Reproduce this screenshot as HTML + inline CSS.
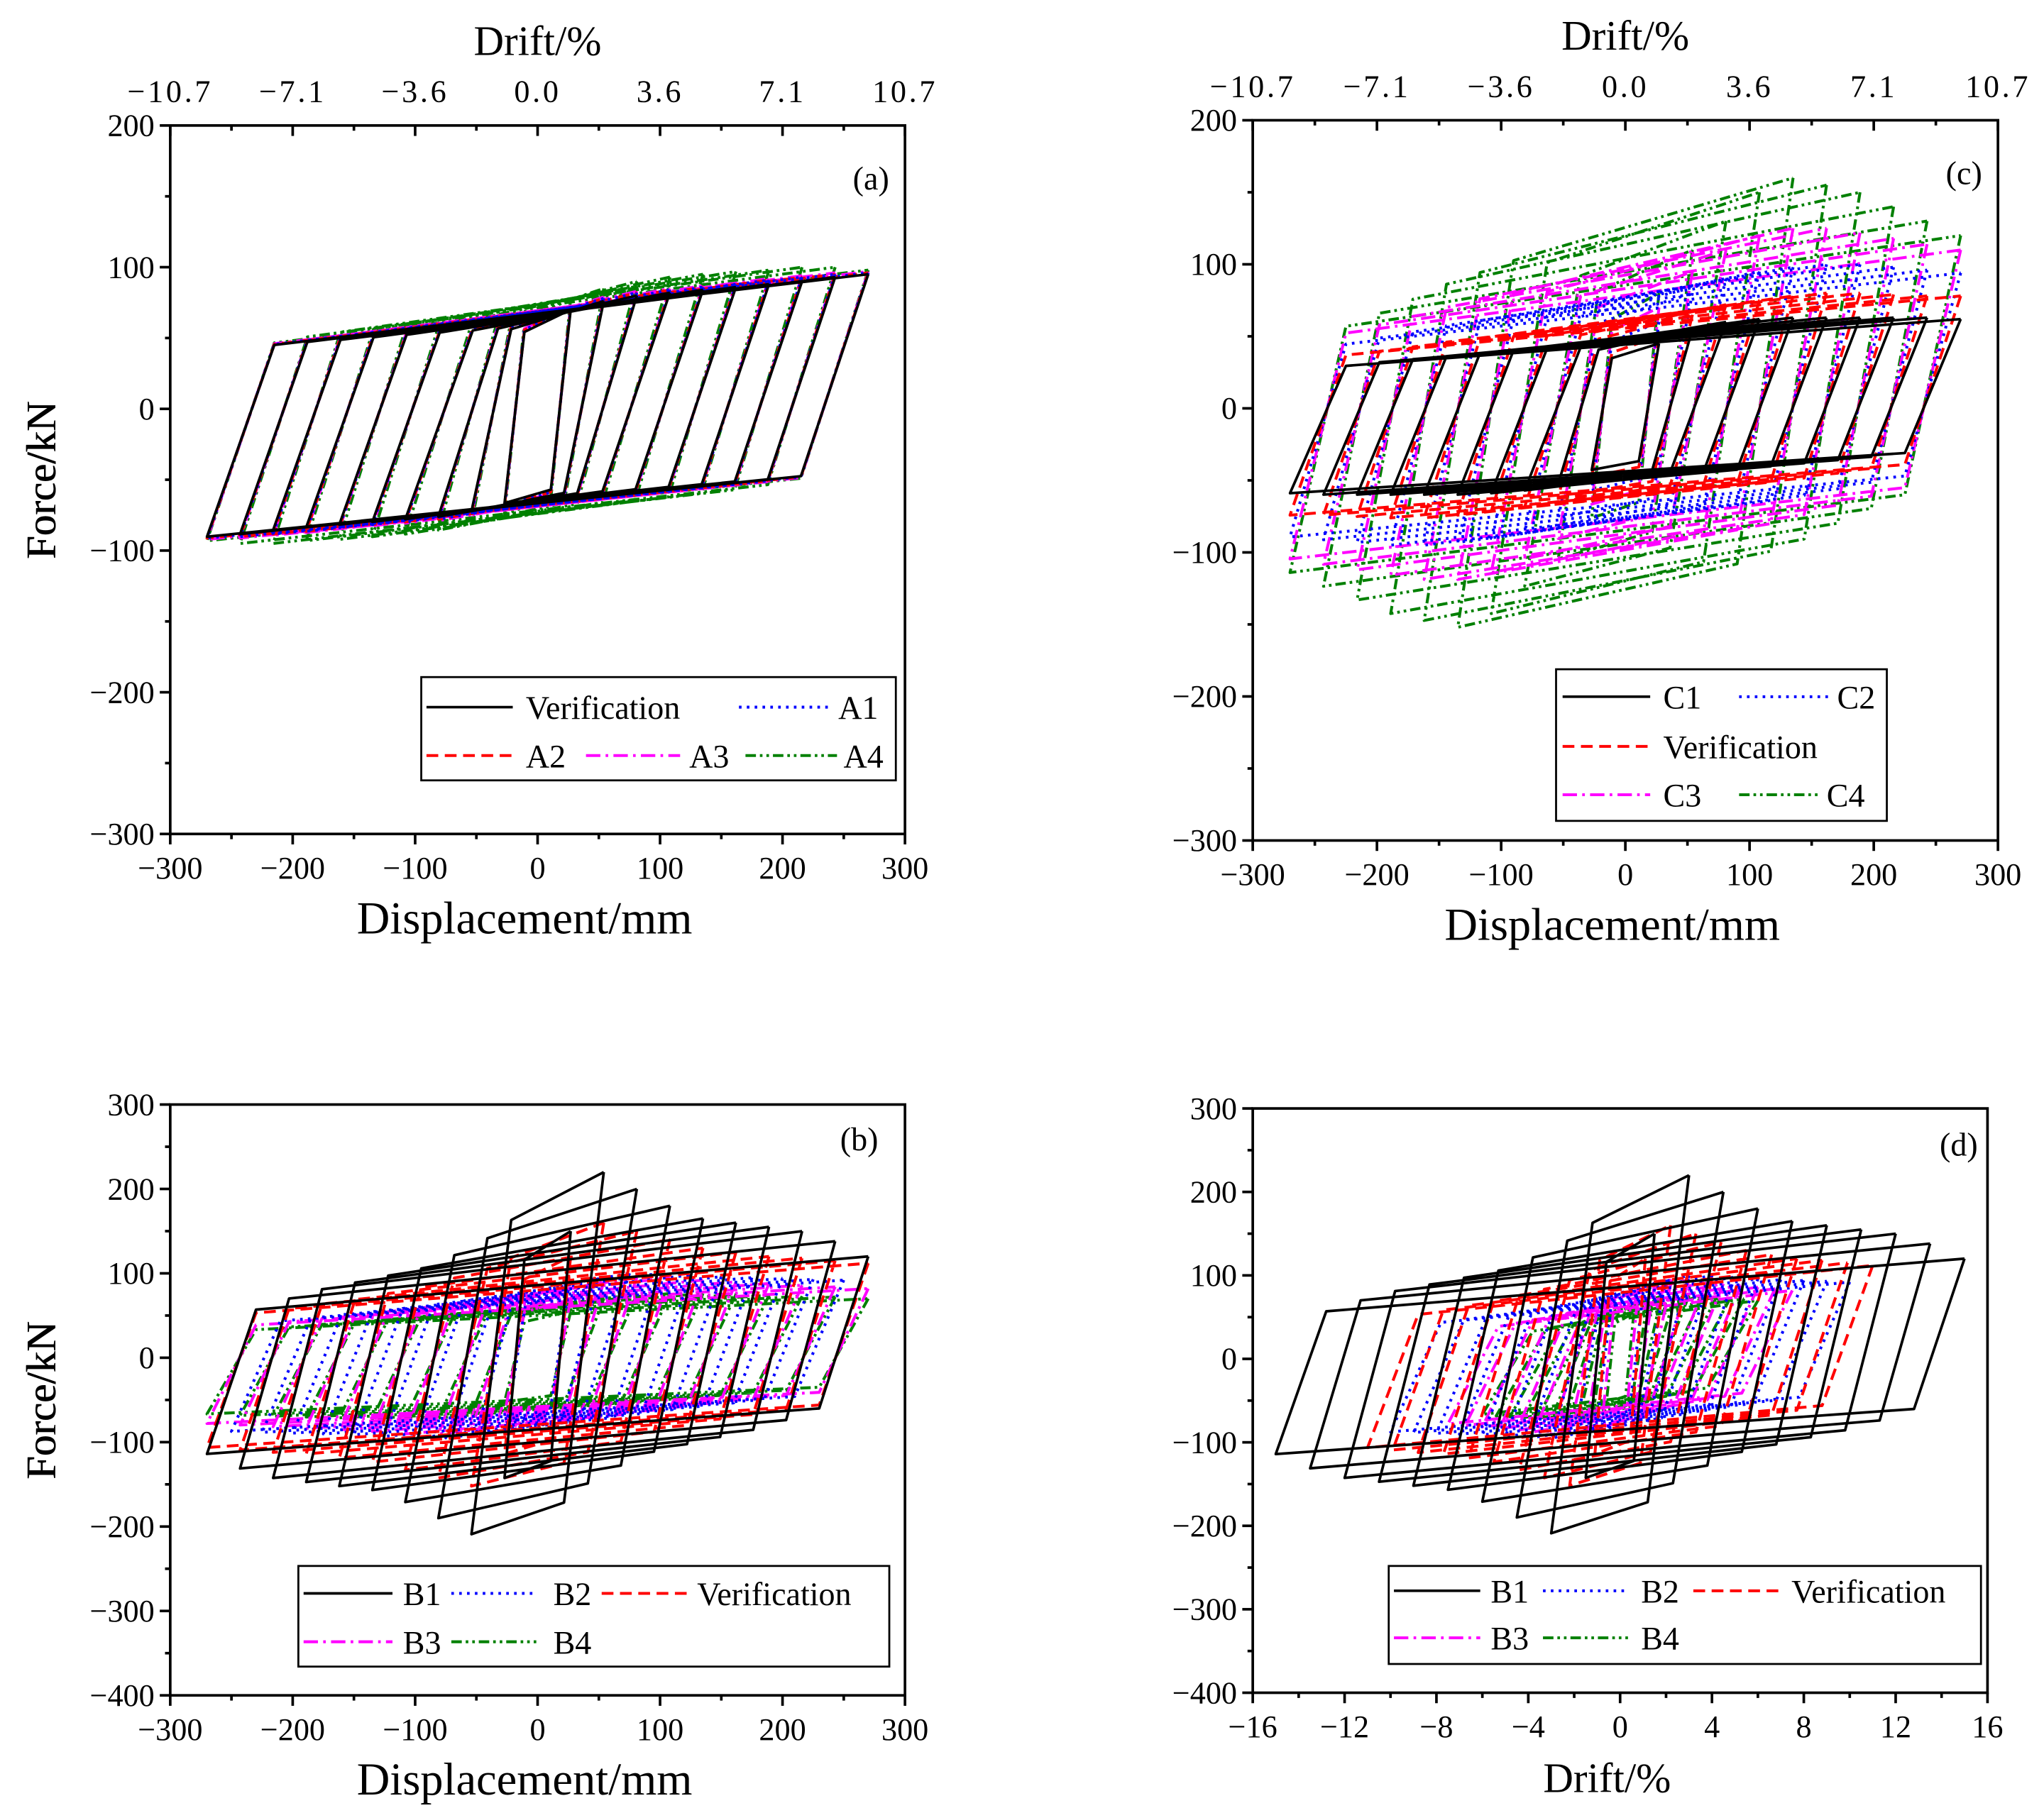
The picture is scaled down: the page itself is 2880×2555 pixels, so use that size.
<!DOCTYPE html>
<html><head><meta charset="utf-8"><style>
html,body{margin:0;padding:0;background:#fff}
svg{display:block}
text{font-family:"Liberation Serif",serif;fill:#000}
</style></head><body>
<svg id="fig" width="2880" height="2555" viewBox="0 0 1563 1387" xmlns="http://www.w3.org/2000/svg"></svg>
<script>
// ---- data ----
const ampA = [27,54,81,108,135,162,189,216,243,270];
const forceAVer = [70,76,80,82,84,86,88,90,93,95];
const forceA1 = [72,78,82,84,86,88,91,93,95,96];
const forceA2 = [72,78,82,84,86,88,91,93,95,96];
const forceA3 = [73,79,83,85,87,89,92,94,96,97];
const forceA4 = [78,85,90,93,95,97,98,100,100,98];

const ampC = [27,54,81,108,135,162,189,216,243,270];
const forceC1 = [45,55,60,62,63,63,63,63,63,62];
const forceC2 = [60,80,90,95,98,100,100,98,96,94];
const forceCVer = [50,65,72,75,78,80,80,79,78,78];
const forceC3 = [70,95,110,120,125,125,122,118,114,110];
const forceC4 = [80,110,130,150,160,155,150,140,130,120];

const ampB1 = [27,54,81,108,135,162,189,216,243,270];
const forceB1 = [150,220,200,180,165,160,155,150,138,120];
const ampB2 = [25,50,75,100,125,150,175,200,225,250];
const forceB2 = [80,95,100,100,98,96,95,94,93,92];
const ampBVer = [27,54,81,108,135,162,189,216,243,270];
const forceBVer = [120,160,150,140,130,125,120,118,115,112];
const ampB3 = [27,54,81,108,135,162,189,216,243,270];
const forceB3 = [70,90,95,95,92,90,88,86,84,82];
const ampB4 = [27,54,81,108,135,162,189,216,243,270];
const forceB4 = [55,70,75,76,76,75,74,73,72,70];

const ampD1 = [1.5,3,4.5,6,7.5,9,10.5,12,13.5,15];
const ampD2 = [1,2,3,4,5,6,7,8,9,10];
const ampDVer = [1.1,2.2,3.3,4.4,5.5,6.6,7.7,8.8,9.9,11];
const ampD3 = [0.75,1.5,2.25,3,3.75,4.5,5.25,6,6.75,7.5];
const ampD4 = [0.6,1.2,1.8,2.4,3,3.6,4.2,4.8,5.4,6];

const yTicksAC = [-300,-200,-100,0,100,200];
const yTicksBD = [-400,-300,-200,-100,0,100,200,300];
const xTicksDisp = [-300,-200,-100,0,100,200,300];
const xTicksDrift = [-16,-12,-8,-4,0,4,8,12,16];
const topDriftLabels = ["\u221210.7","\u22127.1","\u22123.6","0.0","3.6","7.1","10.7"];

// ---- drawing ----
const NS="http://www.w3.org/2000/svg";
const svg=document.getElementById('fig');
function mk(tag,attrs,parent){const e=document.createElementNS(NS,tag);for(const k in attrs)e.setAttribute(k,attrs[k]);(parent||svg).appendChild(e);return e;}
const styles={
 black:{stroke:"#000","stroke-width":2,"stroke-dasharray":"none"},
 blue:{stroke:"#0000ff","stroke-width":2.2,"stroke-dasharray":"2,4"},
 red:{stroke:"#ff0000","stroke-width":2.2,"stroke-dasharray":"9,5"},
 magenta:{stroke:"#ff00ff","stroke-width":2.2,"stroke-dasharray":"11,4,2,4"},
 green:{stroke:"#008000","stroke-width":2.2,"stroke-dasharray":"8,3,2,3,2,3"}
};
function minus(v){return String(v).replace('-','\u2212');}

function panel(p){
 const g=mk('g',{});
 
 
 const sx=v=>p.x0+(v-p.xmin)/(p.xmax-p.xmin)*(p.x1-p.x0);
 const sy=v=>p.y0+(p.ymax-v)/(p.ymax-p.ymin)*(p.y1-p.y0);
 p.series.forEach(s=>{
  const st=styles[s.style];
  const amax=s.amp[s.amp.length-1];
  let d='';
  for(let i=0;i<s.amp.length;i++){
   const a=s.amp[i],f=s.force[i],fn=f*0.95;
   const w=Math.min(p.stepW,a*0.6);
   const k=0.5+0.35*(1-a/amax);
   const pts=[[a,f],[a-w,-k*f],[-a,-fn],[-a+w,k*fn],[a,f]];
   d+='M'+pts.map(q=>sx(q[0]).toFixed(1)+','+sy(q[1]).toFixed(1)).join('L');
  }
  const path=mk('path',{d:d,fill:"none",stroke:st.stroke,"stroke-width":st["stroke-width"],"stroke-dasharray":st["stroke-dasharray"],"stroke-linejoin":"round"},g);
  
  
 });
 const fr=mk('rect',{x:p.x0,y:p.y0,width:p.x1-p.x0,height:p.y1-p.y0,fill:"none",stroke:"#000","stroke-width":2},g);
 
 
 p.yt.forEach((v,i)=>{
  mk('line',{x1:p.x0-8,x2:p.x0,y1:sy(v),y2:sy(v),stroke:"#000","stroke-width":2},g);
  if(i<p.yt.length-1){const m=(v+p.yt[i+1])/2;mk('line',{x1:p.x0-4,x2:p.x0,y1:sy(m),y2:sy(m),stroke:"#000","stroke-width":2},g);}
  const t=mk('text',{x:p.x0-12,y:sy(v)+8,"font-size":24,"text-anchor":"end"},g);t.textContent=minus(v);
  
  
 });
 p.xt.forEach((v,i)=>{
  mk('line',{x1:sx(v),x2:sx(v),y1:p.y1,y2:p.y1+8,stroke:"#000","stroke-width":2},g);
  if(i<p.xt.length-1){const m=(v+p.xt[i+1])/2;mk('line',{x1:sx(m),x2:sx(m),y1:p.y1,y2:p.y1+4,stroke:"#000","stroke-width":2},g);}
  const t=mk('text',{x:sx(v),y:p.y1+34,"font-size":24,"text-anchor":"middle"},g);t.textContent=minus(v);
  
  
 });
 if(p.top){
  xTicksDisp.forEach((v,i)=>{
   mk('line',{x1:sx(v),x2:sx(v),y1:p.y0,y2:p.y0+8,stroke:"#000","stroke-width":2},g);
   if(i<xTicksDisp.length-1){const m=(v+xTicksDisp[i+1])/2;mk('line',{x1:sx(m),x2:sx(m),y1:p.y0,y2:p.y0+4,stroke:"#000","stroke-width":2},g);}
   const t=mk('text',{x:sx(v),y:p.y0-18,"font-size":24,"text-anchor":"middle","letter-spacing":"2"},g);t.textContent=topDriftLabels[i];
   
   
  });
  const tt=mk('text',{x:(p.x0+p.x1)/2,y:p.y0-54,"font-size":32,"text-anchor":"middle"},g);tt.textContent="Drift/%";
  
  
 }
 const yt=mk('text',{x:0,y:0,"font-size":32,"text-anchor":"middle",transform:`translate(42,${(p.y0+p.y1)/2}) rotate(-90)`},g);yt.textContent="Force/kN";
 
 
 const xt=mk('text',{x:(p.x0+p.x1)/2-10,y:p.y1+76,"font-size":p.xtitleSize||35,"text-anchor":"middle"},g);xt.textContent=p.xtitle;
 
 
 const pl=mk('text',{x:p.lab[0],y:p.lab[1],"font-size":25,"text-anchor":"middle"},g);pl.textContent=p.labText;
 
 
 const L=p.legend;
 const lg=mk('g',{},g);
 
 
 mk('rect',{x:L.box[0],y:L.box[1],width:L.box[2],height:L.box[3],fill:"#fff",stroke:"#000","stroke-width":1.5},lg);
 L.items.forEach(it=>{
  const st=styles[it.style];
  mk('line',{x1:it.l[0],x2:it.l[1],y1:it.y,y2:it.y,stroke:st.stroke,"stroke-width":st["stroke-width"],"stroke-dasharray":st["stroke-dasharray"]},lg);
  const t=mk('text',{x:it.t,y:it.y+9,"font-size":25},lg);t.textContent=it.label;
  
  
 });
}

panel({name:'panel-a',x0:130,x1:692,y0:96,y1:638,xmin:-300,xmax:300,ymin:-300,ymax:200,yt:yTicksAC,xt:xTicksDisp,top:true,stepW:55,
 xtitle:"Displacement/mm",lab:[666,145],labText:"(a)",
 series:[{label:'A4',style:'green',amp:ampA,force:forceA4},{label:'A3',style:'magenta',amp:ampA,force:forceA3},{label:'A2',style:'red',amp:ampA,force:forceA2},{label:'A1',style:'blue',amp:ampA,force:forceA1},{label:'Verification',style:'black',amp:ampA,force:forceAVer}],
 legend:{box:[322,518,363,79],items:[
  {style:'black',l:[326,392],t:402,y:541,label:'Verification'},{style:'blue',l:[565,635],t:641,y:541,label:'A1'},
  {style:'red',l:[326,392],t:402,y:578,label:'A2'},{style:'magenta',l:[448,520],t:527,y:578,label:'A3'},{style:'green',l:[570,640],t:645,y:578,label:'A4'}]}});

panel({name:'panel-c',x0:958,x1:1528,y0:92,y1:643,xmin:-300,xmax:300,ymin:-300,ymax:200,yt:yTicksAC,xt:xTicksDisp,top:true,stepW:45,
 xtitle:"Displacement/mm",lab:[1502,141],labText:"(c)",
 series:[{label:'C4',style:'green',amp:ampC,force:forceC4},{label:'C3',style:'magenta',amp:ampC,force:forceC3},{label:'C2',style:'blue',amp:ampC,force:forceC2},{label:'Verification',style:'red',amp:ampC,force:forceCVer},{label:'C1',style:'black',amp:ampC,force:forceC1}],
 legend:{box:[1190,512,253,116],items:[
  {style:'black',l:[1195,1262],t:1272,y:533,label:'C1'},{style:'blue',l:[1330,1398],t:1405,y:533,label:'C2'},
  {style:'red',l:[1195,1262],t:1272,y:571,label:'Verification'},
  {style:'magenta',l:[1195,1262],t:1272,y:608,label:'C3'},{style:'green',l:[1330,1390],t:1397,y:608,label:'C4'}]}});

panel({name:'panel-b',x0:130,x1:692,y0:845,y1:1297,xmin:-300,xmax:300,ymin:-400,ymax:300,yt:yTicksBD,xt:xTicksDisp,top:false,stepW:40,
 xtitle:"Displacement/mm",lab:[657,880],labText:"(b)",
 series:[{label:'B4',style:'green',amp:ampB4,force:forceB4},{label:'B3',style:'magenta',amp:ampB3,force:forceB3},{label:'B2',style:'blue',amp:ampB2,force:forceB2},{label:'Verification',style:'red',amp:ampBVer,force:forceBVer},{label:'B1',style:'black',amp:ampB1,force:forceB1}],
 legend:{box:[228,1198,452,77],items:[
  {style:'black',l:[232,300],t:308,y:1219,label:'B1'},{style:'blue',l:[345,410],t:423,y:1219,label:'B2'},{style:'red',l:[460,525],t:533,y:1219,label:'Verification'},
  {style:'magenta',l:[232,300],t:308,y:1256,label:'B3'},{style:'green',l:[345,410],t:423,y:1256,label:'B4'}]}});

panel({name:'panel-d',x0:958,x1:1520,y0:848,y1:1295,xmin:-16,xmax:16,ymin:-400,ymax:300,yt:yTicksBD,xt:xTicksDrift,top:false,stepW:2.2,
 xtitle:"Drift/%",xtitleSize:32,lab:[1498,884],labText:"(d)",
 series:[{label:'B4',style:'green',amp:ampD4,force:forceB4},{label:'B3',style:'magenta',amp:ampD3,force:forceB3},{label:'B2',style:'blue',amp:ampD2,force:forceB2},{label:'Verification',style:'red',amp:ampDVer,force:forceBVer},{label:'B1',style:'black',amp:ampD1,force:forceB1}],
 legend:{box:[1062,1198,453,75],items:[
  {style:'black',l:[1066,1132],t:1140,y:1217,label:'B1'},{style:'blue',l:[1180,1245],t:1255,y:1217,label:'B2'},{style:'red',l:[1295,1360],t:1370,y:1217,label:'Verification'},
  {style:'magenta',l:[1066,1132],t:1140,y:1253,label:'B3'},{style:'green',l:[1180,1245],t:1255,y:1253,label:'B4'}]}});
</script>
</body></html>
